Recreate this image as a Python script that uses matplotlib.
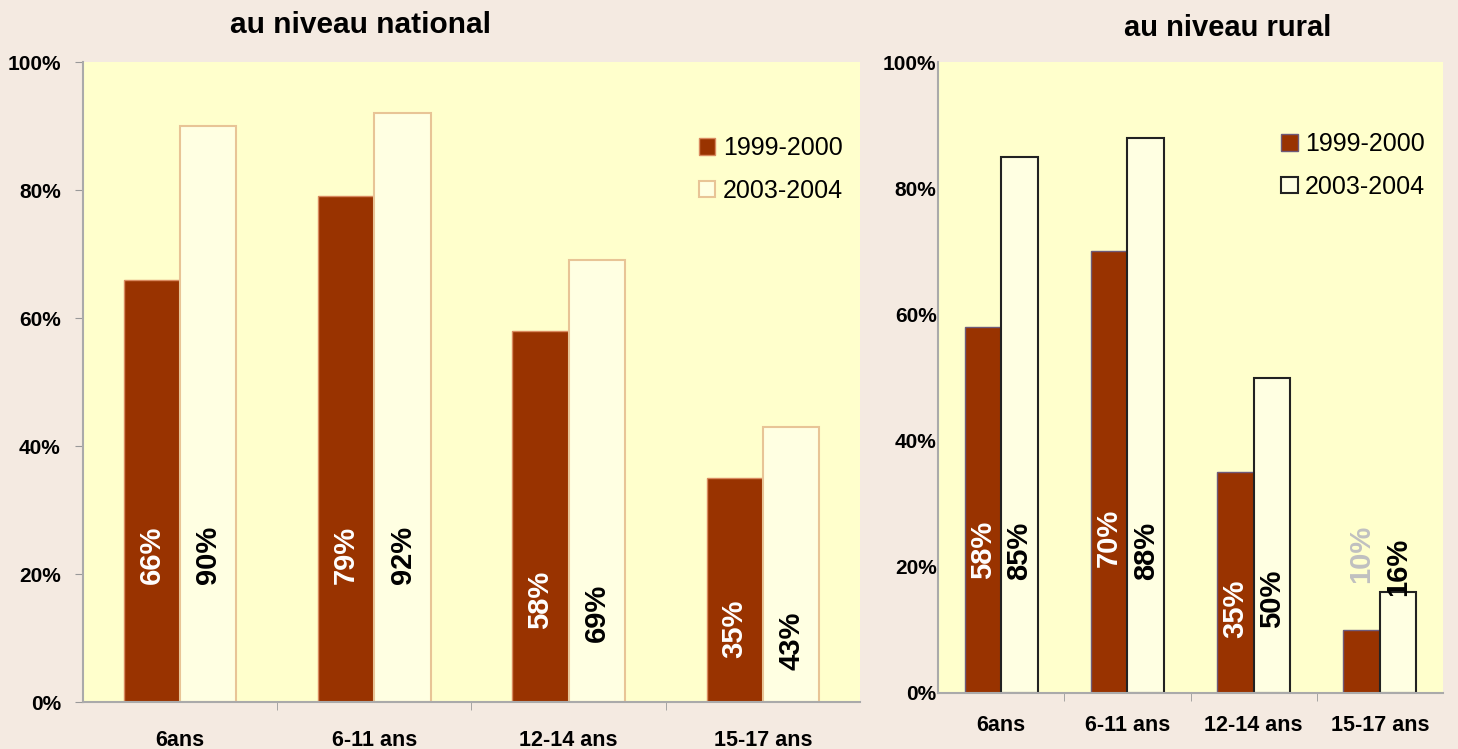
import numpy as np
import matplotlib
matplotlib.use('Agg')
from matplotlib import pyplot as plt
from matplotlib.ticker import FixedLocator

plt.rcParams['font.family'] = ['Liberation Sans', 'DejaVu Sans']

categories = ['6ans', '6-11 ans', '12-14 ans', '15-17 ans']
series = ['1999-2000', '2003-2004']

national_1999 = [66, 79, 58, 35]
national_2003 = [90, 92, 69, 43]
rural_1999 = [58, 70, 35, 10]
rural_2003 = [85, 88, 50, 16]

# where the rotated value labels sit (y, in %)
nat_lab_y_1999 = [23, 23, 16, 11.5]
nat_lab_y_2003 = [23, 23, 14, 9.5]
rur_lab_y_1999 = [22.7, 24.6, 13.3, 22]
rur_lab_y_2003 = [22.5, 22.5, 15, 20]

fig_bg = '#F4EAE1'
plot_bg = '#FFFFCC'
red = '#993300'

fig = plt.figure(figsize=(14.58, 7.49), dpi=100)
fig.patch.set_facecolor(fig_bg)

ax1 = fig.add_axes([83/1458, 47/749, 777/1458, 640/749])
ax2 = fig.add_axes([938/1458, 56/749, 505/1458, 631/749])

x = np.arange(len(categories))
w = 0.29


def draw(ax, v1, v2, ly1, ly2, edge2, edge1, lab1_colors, leg_anchor, ytick_len, ypad, xpad):
    ax.set_facecolor(plot_bg)
    ax.bar(x - w/2, v1, w, color=red, edgecolor=edge1, linewidth=1, label=series[0])
    ax.bar(x + w/2, v2, w, color='#FFFFE2', edgecolor=edge2, linewidth=1.5, label=series[1])
    for i in range(len(x)):
        ax.text(x[i] - w/2, ly1[i], f'{v1[i]}%', rotation=90, ha='center', va='center',
                color=lab1_colors[i], fontsize=21, fontweight='bold')
        ax.text(x[i] + w/2, ly2[i], f'{v2[i]}%', rotation=90, ha='center', va='center',
                color='black', fontsize=21, fontweight='bold')
    ax.set_xlim(-0.5, len(x) - 0.5)
    ax.set_ylim(0, 100)
    ax.set_yticks([0, 20, 40, 60, 80, 100])
    ax.set_yticklabels([f'{t}%' for t in [0, 20, 40, 60, 80, 100]], fontsize=15, fontweight='bold')
    ax.set_xticks(x)
    ax.set_xticklabels(categories, fontsize=15.5, fontweight='bold')
    ax.xaxis.set_minor_locator(FixedLocator([0.5, 1.5, 2.5]))
    ax.tick_params(axis='x', which='major', length=0, pad=xpad)
    ax.tick_params(axis='x', which='minor', length=6, color='#999999', direction='out')
    ax.tick_params(axis='y', length=ytick_len, color='#999999', direction='out', pad=ypad)
    for s in ['top', 'right']:
        ax.spines[s].set_visible(False)
    for s in ['left', 'bottom']:
        ax.spines[s].set_color('#AAAAAA')
        ax.spines[s].set_linewidth(1.5)
    ax.legend(loc='upper left', bbox_to_anchor=leg_anchor, frameon=False, fontsize=18,
              handlelength=0.65, handleheight=0.65, handletextpad=0.3, labelspacing=0.75,
              borderaxespad=0)


draw(ax1, national_1999, national_2003, nat_lab_y_1999, nat_lab_y_2003,
     '#E8C496', '#D98A60', ['white'] * 4, (0.78, 0.9), 6, 10, 20)
draw(ax2, rural_1999, rural_2003, rur_lab_y_1999, rur_lab_y_2003,
     '#222222', '#6E5A7A', ['white', 'white', 'white', '#C0C0C0'], (0.66, 0.905), 0, 1, 16)

fig.text(360/1458, 1 - 25/749, 'au niveau national', ha='center', va='center',
         fontsize=21.5, fontweight='bold')
fig.text(1228/1458, 1 - 28/749, 'au niveau rural', ha='center', va='center',
         fontsize=21, fontweight='bold')

fig.savefig('out.png', dpi=100, facecolor=fig_bg)
